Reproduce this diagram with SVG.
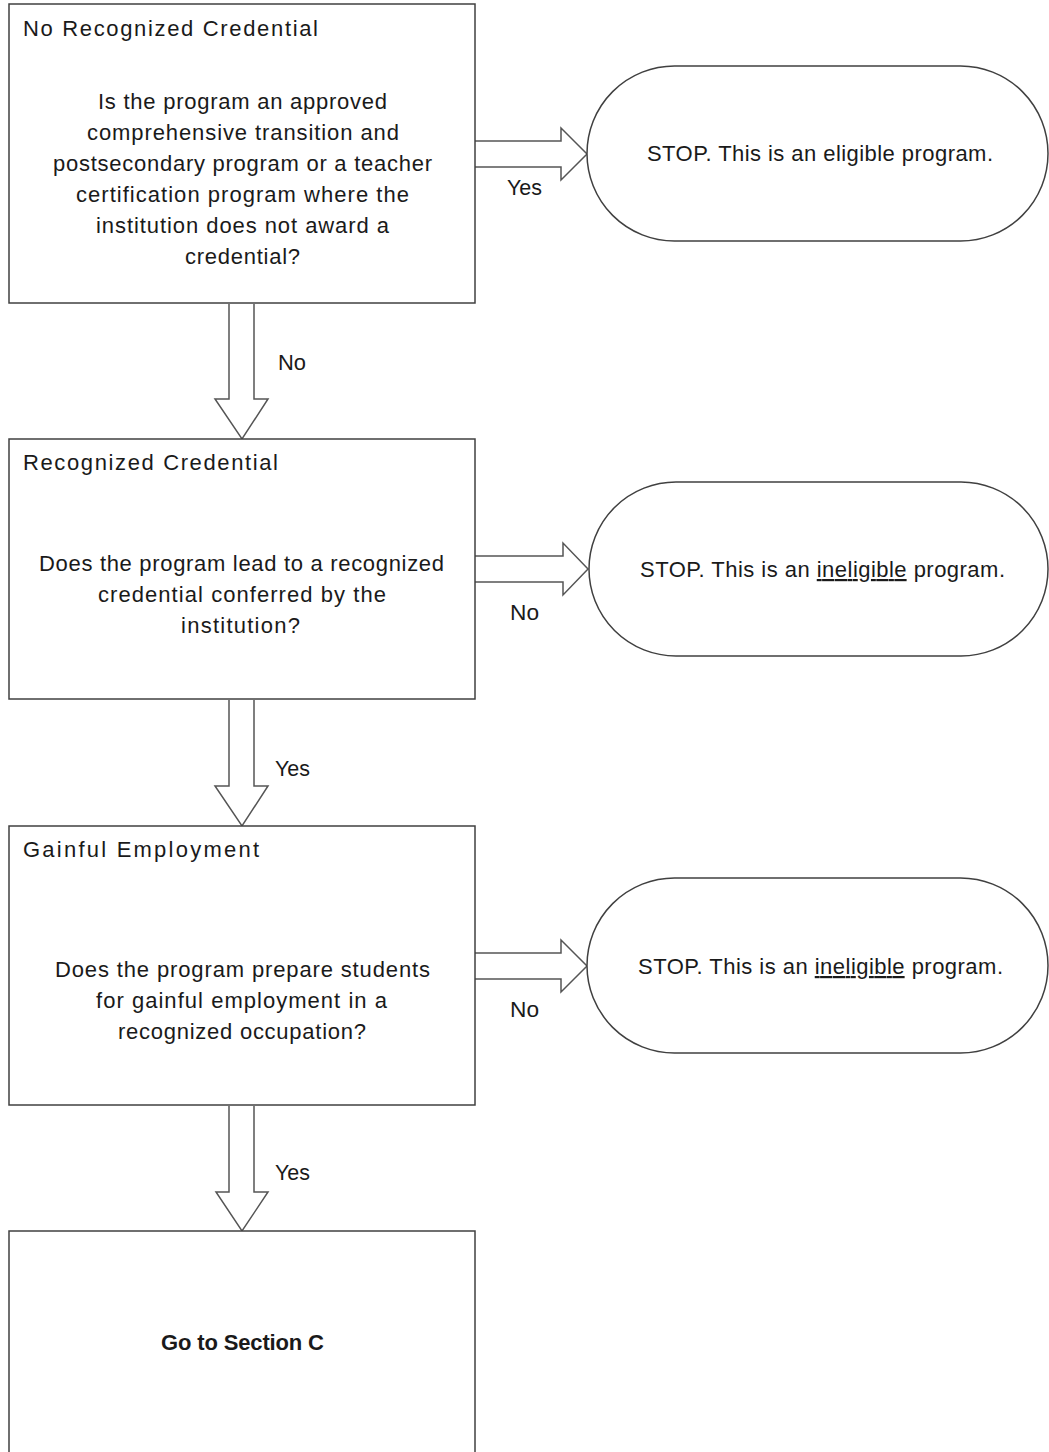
<svg xmlns="http://www.w3.org/2000/svg" width="1049" height="1452" viewBox="0 0 1049 1452">
<style>
.box{fill:#fff;stroke:#404040;stroke-width:1.5}
.stop{fill:#fff;stroke:#404040;stroke-width:1.5}
.arr{fill:#fff;stroke:#555;stroke-width:1.5;stroke-linejoin:miter}
text{font-family:"Liberation Sans",Arial,sans-serif;font-size:22px;fill:#1a1a1a}
.b{font-weight:bold}
</style>
<rect width="1049" height="1452" fill="#fff"/>
<g id="connectors">
<path class="arr" d="M475,141 H561 V128 L587,154 L561,180 V167 H475"/>
<path class="arr" d="M475,556 H563 V543 L588,569 L563,595 V582 H475"/>
<path class="arr" d="M475,953 H561 V940 L587,966 L561,992 V979 H475"/>
<path class="arr" d="M229,304 V399 H215 L242,439 L268,399 H254 V304"/>
<path class="arr" d="M229,700 V786 H215 L242,826 L268,786 H254 V700"/>
<path class="arr" d="M229,1106 V1192 H216 L242,1231 L268,1192 H254 V1106"/>
<text x="507" y="195" textLength="35" lengthAdjust="spacingAndGlyphs">Yes</text>
<text x="278" y="370" textLength="28" lengthAdjust="spacingAndGlyphs">No</text>
<text x="510" y="620" textLength="29" lengthAdjust="spacingAndGlyphs">No</text>
<text x="275" y="776" textLength="35" lengthAdjust="spacingAndGlyphs">Yes</text>
<text x="510" y="1017" textLength="29" lengthAdjust="spacingAndGlyphs">No</text>
<text x="275" y="1180" textLength="35" lengthAdjust="spacingAndGlyphs">Yes</text>
</g>
<g id="node-no-recognized-credential">
<rect class="box" x="9" y="4" width="466" height="299"/>
<text x="23" y="36" textLength="295" lengthAdjust="spacing">No Recognized Credential</text>
<text x="98" y="109" textLength="289" lengthAdjust="spacing">Is the program an approved</text>
<text x="87" y="140" textLength="312" lengthAdjust="spacing">comprehensive transition and</text>
<text x="53" y="171" textLength="379" lengthAdjust="spacing">postsecondary program or a teacher</text>
<text x="76" y="202" textLength="333" lengthAdjust="spacing">certification program where the</text>
<text x="96" y="233" textLength="293" lengthAdjust="spacing">institution does not award a</text>
<text x="185" y="264" textLength="115" lengthAdjust="spacing">credential?</text>
</g>
<g id="node-stop-eligible">
<rect class="stop" x="587" y="66" width="461" height="175" rx="87.5" ry="87.5"/>
<text x="647" y="161" textLength="346" lengthAdjust="spacing">STOP. This is an eligible program.</text>
</g>
<g id="node-recognized-credential">
<rect class="box" x="9" y="439" width="466" height="260"/>
<text x="23" y="470" textLength="255" lengthAdjust="spacing">Recognized Credential</text>
<text x="39" y="571" textLength="405" lengthAdjust="spacing">Does the program lead to a recognized</text>
<text x="98" y="602" textLength="288" lengthAdjust="spacing">credential conferred by the</text>
<text x="181" y="633" textLength="119" lengthAdjust="spacing">institution?</text>
</g>
<g id="node-stop-ineligible-1">
<rect class="stop" x="589" y="482" width="459" height="174" rx="87" ry="87"/>
<text x="640" y="577" textLength="365" lengthAdjust="spacing">STOP. This is an <tspan text-decoration="underline">ineligible</tspan> program.</text>
</g>
<g id="node-gainful-employment">
<rect class="box" x="9" y="826" width="466" height="279"/>
<text x="23" y="857" textLength="236" lengthAdjust="spacing">Gainful Employment</text>
<text x="55" y="977" textLength="375" lengthAdjust="spacing">Does the program prepare students</text>
<text x="96" y="1008" textLength="291" lengthAdjust="spacing">for gainful employment in a</text>
<text x="118" y="1039" textLength="248" lengthAdjust="spacing">recognized occupation?</text>
</g>
<g id="node-stop-ineligible-2">
<rect class="stop" x="587" y="878" width="461" height="175" rx="87.5" ry="87.5"/>
<text x="638" y="974" textLength="365" lengthAdjust="spacing">STOP. This is an <tspan text-decoration="underline">ineligible</tspan> program.</text>
</g>
<g id="node-go-to-section-c">
<rect class="box" x="9" y="1231" width="466" height="240"/>
<text class="b" x="161" y="1350" textLength="163" lengthAdjust="spacing">Go to Section C</text>
</g>
</svg>
